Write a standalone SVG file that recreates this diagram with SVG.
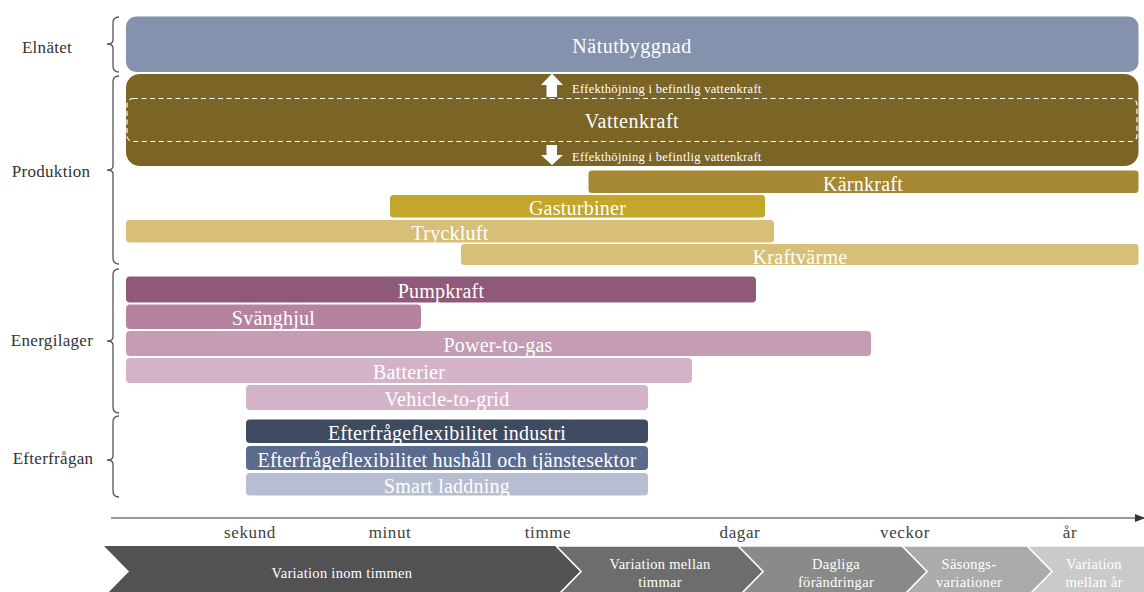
<svg xmlns="http://www.w3.org/2000/svg" width="1144" height="592" viewBox="0 0 1144 592">
<style>
.lbl{font-family:"Liberation Serif","Times New Roman",serif;font-size:17px;fill:#333;text-anchor:middle;letter-spacing:0.3px}
.bt{font-family:"Liberation Serif","Times New Roman",serif;font-size:20px;fill:#fff;text-anchor:middle;letter-spacing:0.25px}
.big{letter-spacing:0.5px}
.sm{font-family:"Liberation Serif","Times New Roman",serif;font-size:12.5px;fill:#fff;letter-spacing:0.3px}
.ax{font-family:"Liberation Serif","Times New Roman",serif;font-size:17px;fill:#404040;text-anchor:middle;letter-spacing:0.6px}
.ch{font-family:"Liberation Serif","Times New Roman",serif;font-size:14.5px;fill:#fff;text-anchor:middle;letter-spacing:0.3px}
.brace{fill:none;stroke:#555;stroke-width:1.3}
.chev{stroke:#fff;stroke-width:1.5}
</style>
<defs>
<marker id="arr" markerWidth="10" markerHeight="8" refX="9" refY="4" orient="auto" markerUnits="userSpaceOnUse">
<path d="M0,0 L10,4 L0,8 Z" fill="#333"/>
</marker>
</defs>
<rect width="1144" height="592" fill="#fff"/>

<g id="labels">
<text class="lbl" x="47" y="53">Elnätet</text>
<text class="lbl" x="51" y="177">Produktion</text>
<text class="lbl" x="52" y="346">Energilager</text>
<text class="lbl" x="53" y="464">Efterfrågan</text>
</g>

<g id="braces">
<path class="brace" d="M119,17 Q113,17 113,23 L113,40 Q113,44 107,44 Q113,44 113,48 L113,66 Q113,72 119,72"/>
<path class="brace" d="M119,76 Q113,76 113,82 L113,166 Q113,170 107,170 Q113,170 113,174 L113,258 Q113,264 119,264"/>
<path class="brace" d="M119,269 Q113,269 113,275 L113,337 Q113,341 107,341 Q113,341 113,345 L113,407 Q113,413 119,413"/>
<path class="brace" d="M119,416 Q113,416 113,422 L113,456 Q113,460 107,460 Q113,460 113,464 L113,491 Q113,497 119,497"/>
</g>

<g id="natutbyggnad">
<rect x="126" y="16.5" width="1012.5" height="55.5" rx="10" fill="#8592ad"/>
<text class="bt big" x="632" y="53">Nätutbyggnad</text>
</g>

<g id="vattenkraft">
<rect x="126" y="74" width="1012.5" height="92" rx="14" fill="#7a6426"/>
<rect x="127" y="98.5" width="1010" height="43" rx="6" fill="none" stroke="#fff" stroke-width="1.2" stroke-dasharray="5,3.5"/>
<text class="bt big" x="632" y="128">Vattenkraft</text>
<polygon points="552,73.5 541,85 546.5,85 546.5,97 557,97 557,85 563,85" fill="#fff"/>
<text class="sm" x="572" y="92.5">Effekthöjning i befintlig vattenkraft</text>
<polygon points="546.5,145 557,145 557,155 563,155 552,165 541,155 546.5,155" fill="#fff"/>
<text class="sm" x="572" y="160.5">Effekthöjning i befintlig vattenkraft</text>
</g>

<g id="karnkraft">
<rect x="588.5" y="170.5" width="550" height="22.5" rx="3.5" fill="#a68833"/>
<text class="bt" x="863" y="190.5">Kärnkraft</text>
</g>
<g id="gasturbiner">
<rect x="390" y="195" width="375" height="22.5" rx="3.5" fill="#c4a62a"/>
<text class="bt" x="577.5" y="215">Gasturbiner</text>
</g>
<g id="tryckluft">
<rect x="126" y="220" width="648" height="22.5" rx="3.5" fill="#d7bf77"/>
<text class="bt" x="450" y="240">Tryckluft</text>
</g>
<g id="kraftvarme">
<rect x="461" y="244" width="677.5" height="21" rx="3.5" fill="#d7bf77"/>
<text class="bt" x="800" y="263.5">Kraftvärme</text>
</g>

<g id="pumpkraft">
<rect x="126" y="276.5" width="630" height="26" rx="4" fill="#8f5a7a"/>
<text class="bt" x="441" y="298">Pumpkraft</text>
</g>
<g id="svanghjul">
<rect x="126" y="304.5" width="295" height="24.5" rx="4" fill="#b5839f"/>
<text class="bt" x="273.5" y="325">Svänghjul</text>
</g>
<g id="powertogas">
<rect x="126" y="331" width="745" height="25" rx="4" fill="#c49cb4"/>
<text class="bt" x="498" y="352">Power-to-gas</text>
</g>
<g id="batterier">
<rect x="126" y="358" width="566" height="25" rx="4" fill="#d4b3c8"/>
<text class="bt" x="409" y="379">Batterier</text>
</g>
<g id="vehicletogrid">
<rect x="246" y="385" width="402" height="25" rx="4" fill="#d4b3c8"/>
<text class="bt" x="447" y="406">Vehicle-to-grid</text>
</g>

<g id="eff_industri">
<rect x="246" y="419.5" width="402" height="23.5" rx="4" fill="#3e4a5f"/>
<text class="bt" x="447" y="440">Efterfrågeflexibilitet industri</text>
</g>
<g id="eff_hushall">
<rect x="246" y="446" width="402" height="24" rx="4" fill="#5b6b8d"/>
<text class="bt" x="447" y="467">Efterfrågeflexibilitet hushåll och tjänstesektor</text>
</g>
<g id="smart">
<rect x="246" y="473" width="402" height="22.5" rx="4" fill="#b7bed1"/>
<text class="bt" x="447" y="493">Smart laddning</text>
</g>

<g id="connectors">
<line x1="111" y1="518" x2="1144" y2="518" stroke="#333" stroke-width="1.2" marker-end="url(#arr)"/>
</g>

<g id="axis-labels">
<text class="ax" x="250" y="538">sekund</text>
<text class="ax" x="390" y="538">minut</text>
<text class="ax" x="548" y="538">timme</text>
<text class="ax" x="740" y="538">dagar</text>
<text class="ax" x="905" y="538">veckor</text>
<text class="ax" x="1070" y="538">år</text>
</g>

<g id="chevrons">
<polygon class="chev" points="1027,546 1170,546 1195,571.5 1170,597 1027,597 1052,571.5" fill="#cacaca"/>
<polygon class="chev" points="902,546 1027,546 1052,571.5 1027,597 902,597 927,571.5" fill="#ababab"/>
<polygon class="chev" points="738,546 902,546 927,571.5 902,597 738,597 763,571.5" fill="#8a8a8a"/>
<polygon class="chev" points="556,546 738,546 763,571.5 738,597 556,597 581,571.5" fill="#6d6d6d"/>
<polygon points="104,546 556,546 581,571.5 556,597 104,597 129,571.5" fill="#525254" stroke="none"/>
<line x1="556" y1="546" x2="581" y2="571.5" stroke="#fff" stroke-width="1.5"/>
<line x1="581" y1="571.5" x2="556" y2="597" stroke="#fff" stroke-width="1.5"/>
<text class="ch" x="342" y="578">Variation inom timmen</text>
<text class="ch" x="660" y="569">Variation mellan</text>
<text class="ch" x="660" y="587">timmar</text>
<text class="ch" x="836" y="569">Dagliga</text>
<text class="ch" x="836" y="587">förändringar</text>
<text class="ch" x="969" y="569">Säsongs-</text>
<text class="ch" x="969" y="587">variationer</text>
<text class="ch" x="1094" y="569">Variation</text>
<text class="ch" x="1094" y="587">mellan år</text>
</g>
</svg>
